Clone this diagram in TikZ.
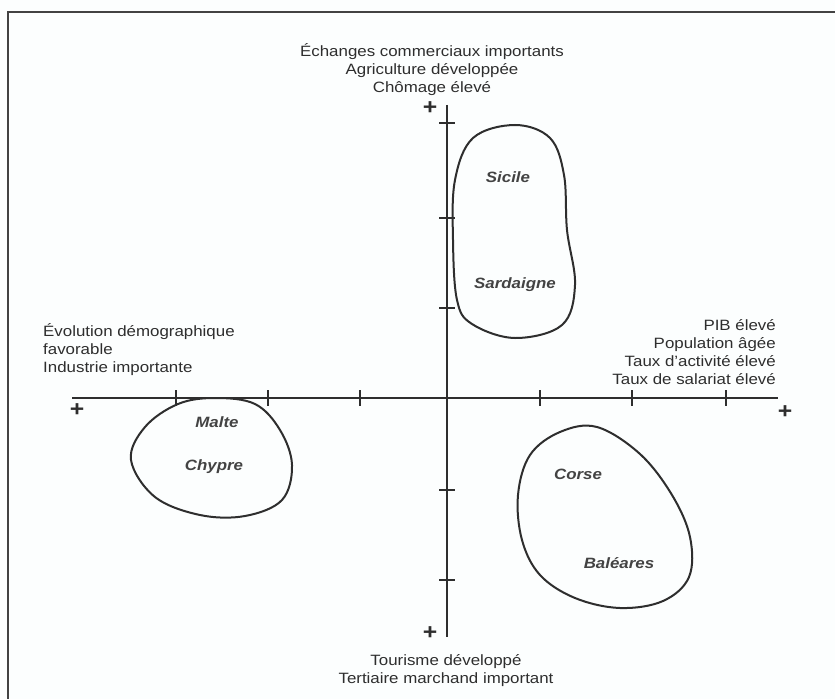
\documentclass[tikz,border=0pt]{standalone}
\usepackage{fontspec}
\setmainfont[FakeStretch=1.13]{Liberation Sans}
\definecolor{ink}{HTML}{2E2E2E}
\definecolor{paper}{HTML}{FCFEFE}
\tikzset{
  lbl/.style={font=\fontsize{15}{18}\selectfont, text=ink, inner sep=0pt},
  region/.style={font=\fontsize{15}{18}\selectfont\bfseries\itshape, text=ink!90, inner sep=0pt},
  axisline/.style={draw=ink, line width=1.4bp},
  tickline/.style={draw=ink, line width=1.2bp},
  blob/.style={draw=ink, line width=2bp},
  plus/.style={font=\fontsize{22}{22}\selectfont\bfseries, text=ink, inner sep=0pt},
  frameline/.style={draw=ink!90, line width=1.3bp}
}
\begin{document}
\begin{tikzpicture}[x=1bp,y=-1bp]
\fill[paper] (0,0) rectangle (835,699);
\useasboundingbox (0,0) rectangle (835,699);
% frame
\draw[frameline] (835,12) -- (8,12) -- (8,699);
% axes
\coordinate (xl) at (72,398);
\coordinate (xr) at (778,398);
\coordinate (yt) at (447,105);
\coordinate (yb) at (447,637);
\draw[axisline] (xl) -- (xr);
\draw[axisline] (yt) -- (yb);
\foreach \x in {176,268,360,540,632,726} \draw[tickline] (\x,390) -- (\x,406);
\foreach \y in {123,218,308,490,580} \draw[tickline] (439,\y) -- (455,\y);
% plus signs
\node[plus] (pt) at (430,108) {+};
\node[plus] (pb) at (430,633) {+};
\node[plus] (pl) at (77,410) {+};
\node[plus] (pr) at (785,412) {+};
% axis labels
\node[lbl, align=center] (top) at (432,70) {Échanges commerciaux importants\\Agriculture développée\\Chômage élevé};
\node[lbl, align=left, anchor=west] (left) at (43,350) {Évolution démographique\\favorable\\Industrie importante};
\node[lbl, align=right, anchor=east] (right) at (776,352) {PIB élevé\\Population âgée\\Taux d'activité élevé\\Taux de salariat élevé};
\node[lbl, align=center] (bottom) at (446,671) {Tourisme développé\\Tertiaire marchand important};
% blobs
\draw[blob] plot[smooth cycle, tension=0.6] coordinates {
  (515,125) (550,138) (564,175) (567,230) (575,285) (562,325) (515,338)
  (472,324) (457,300) (453,240) (455,180) (473,138)};
\draw[blob] plot[smooth cycle, tension=0.6] coordinates {
  (215,398) (255,404) (280,430) (292,465) (282,500) (245,516) (200,515)
  (155,497) (131,460) (145,427) (178,404)};
\draw[blob] plot[smooth cycle, tension=0.6] coordinates {
  (597,427) (640,454) (672,495) (690,537) (689,577) (663,601) (620,608)
  (575,598) (540,575) (522,540) (518,495) (530,455) (560,432)};
% region labels
\node[region] (sicile) at (508,177) {Sicile};
\node[region] (sardaigne) at (515,285) {Sardaigne};
\node[region] (malte) at (217,422) {Malte};
\node[region] (chypre) at (214,467) {Chypre};
\node[region] (corse) at (578,474) {Corse};
\node[region] (baleares) at (619,563) {Baléares};
\end{tikzpicture}
\end{document}
